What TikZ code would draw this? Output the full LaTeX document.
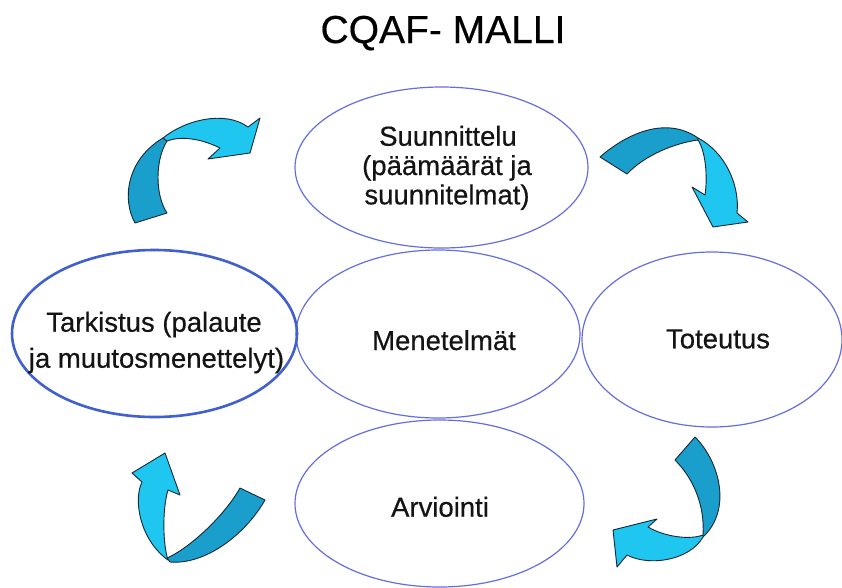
\documentclass[tikz,border=0pt]{standalone}
\usepackage{fontspec}
\setmainfont{Liberation Sans}
\newfontfamily\labelfont[FakeBold=0.45]{Liberation Sans}
\usetikzlibrary{shapes.geometric}

\definecolor{ringblue}{RGB}{100,110,224}
\definecolor{ringbold}{RGB}{64,96,208}
\definecolor{arrowlight}{RGB}{30,198,240}
\definecolor{arrowdark}{RGB}{26,158,204}
\definecolor{arrowedge}{RGB}{22,40,52}

\tikzset{
  ring/.style={draw=ringblue, line width=1.2pt, ellipse, inner sep=0pt},
  boldring/.style={ring, draw=ringbold, line width=2.6pt},
  label/.style={font=\labelfont\fontsize{27.5}{30}\selectfont, align=center, inner sep=0pt, text=black!92},
  front/.style={fill=arrowlight, draw=arrowedge, line width=0.9pt, line join=round},
  back/.style={fill=arrowdark, draw=arrowedge, line width=0.9pt, line join=round},
}

\begin{document}
\begin{tikzpicture}[x=1pt,y=-1pt]
\useasboundingbox[fill=white] (0,0) rectangle (842,587);

% title
\node[anchor=base, font=\labelfont\fontsize{39}{42}\selectfont, inner sep=0pt] (title) at (443,43) {CQAF- MALLI};

% the five phases
\node[ring, minimum width=293pt, minimum height=161pt] (suun) at (441.5,167.5) {};
\node[ring, minimum width=284pt, minimum height=168pt] (men) at (438,334) {};
\node[ring, minimum width=260pt, minimum height=175pt] (tot) at (712,339.5) {};
\node[ring, minimum width=289pt, minimum height=167pt] (arv) at (439.5,503.5) {};
\node[boldring, minimum width=285pt, minimum height=167pt] (tark) at (154.5,333.5) {};

\node[label, anchor=base] (suuntxt) at (448,145.7) {Suunnittelu};
\node[label, anchor=base] (suuntxt2) at (447,175) {(päämäärät ja};
\node[label, anchor=base] (suuntxt3) at (447,204.3) {suunnitelmat)};
\node[label, anchor=base] (mentxt) at (444,350) {Menetelmät};
\node[label, anchor=base] (tottxt) at (718,348.3) {Toteutus};
\node[label, anchor=base] (arvtxt) at (440,516.7) {Arviointi};
\node[label, anchor=base] (tarktxt) at (154,331.7) {Tarkistus (palaute};
\node[label, anchor=base] (tarktxt2) at (156.5,367.7) {ja muutosmenettelyt)};

% curved arrow, upper left
\draw[back] (135,223) .. controls (122,200) and (126,160) .. (163,138)
  -- (167,141) .. controls (155,160) and (155,195) .. (167,213) -- cycle;
\draw[front] (163,138) .. controls (185,120) and (225,110) .. (248,127)
  -- (260,118) -- (250,153) -- (208,159) -- (220,148)
  .. controls (200,138) and (180,136) .. (167,141) -- cycle;

% curved arrow, upper right
\draw[back] (600,157) .. controls (625,135) and (665,115) .. (698,138)
  -- (698,140) .. controls (675,143) and (645,155) .. (627,174) -- cycle;
\draw[front] (698,138) .. controls (725,152) and (740,185) .. (737,213)
  -- (748,222) -- (713,227) -- (692,187) -- (705,195)
  .. controls (708,175) and (705,150) .. (698,140) -- cycle;

% curved arrow, lower right
\draw[back] (695,437) .. controls (720,462) and (732,510) .. (703,537)
  -- (703,535) .. controls (705,505) and (693,478) .. (675,460) -- cycle;
\draw[front] (703,537) .. controls (690,560) and (650,567) .. (627,555)
  -- (617,567) -- (613,530) -- (657,519) -- (648,527)
  .. controls (665,537) and (690,540) .. (703,535) -- cycle;

% curved arrow, lower left
\draw[back] (265,500) .. controls (245,535) and (205,565) .. (170,562)
  -- (167,558) .. controls (190,548) and (225,515) .. (240,488) -- cycle;
\draw[front] (168,560) .. controls (140,540) and (133,500) .. (142,482)
  -- (132,473) -- (165,453) -- (180,495) -- (168,490)
  .. controls (162,510) and (163,545) .. (168,560) -- cycle;
\end{tikzpicture}
\end{document}
